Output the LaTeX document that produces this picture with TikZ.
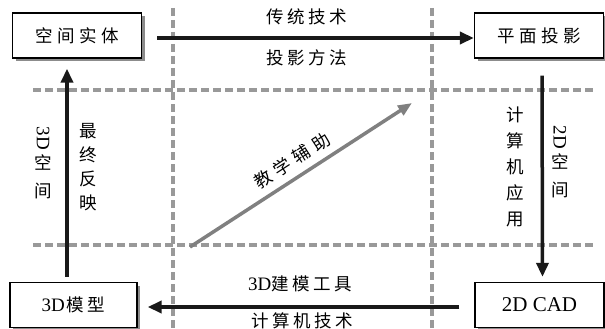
\documentclass[tikz,border=0pt]{standalone}
\usepackage{fontspec}
\usepackage{graphicx}
\setmainfont{Liberation Serif}
\newfontfamily\cjk{Noto Sans CJK SC}
\usetikzlibrary{arrows.meta,shadows}
\newcommand\gp{\hspace{3.5pt}}
\newcommand\bgp{\hspace{4.5pt}}
\newcommand\dgp{\hspace{5.5pt}}
\newcommand\lat[1]{{\rmfamily\fontsize{19}{19}\selectfont #1}}
\begin{document}
\begin{tikzpicture}[x=1pt,y=-1pt,
  box/.style={draw=black,line width=1.3pt,fill=white,minimum width=129pt,minimum height=45pt,inner sep=0pt,
    drop shadow={shadow xshift=3pt,shadow yshift=-3pt,fill=black!45,opacity=1},
    font=\fontsize{17.5}{20}\selectfont\cjk},
  arr/.style={line width=3.5pt,draw=black!90,-{Triangle[length=14pt,width=12pt]}},
  garr/.style={line width=3.5pt,draw=black!50,-{Triangle[length=14pt,width=11pt]}},
  gdash/.style={draw=black!40,line width=3.3pt,dash pattern=on 8pt off 4pt},
  lbl/.style={font=\fontsize{17.5}{20}\selectfont\cjk,inner sep=0pt},
  vlbl/.style={font=\fontsize{17.5}{24}\selectfont\cjk,align=center,inner sep=0pt}
]
\useasboundingbox (0,0) rectangle (605,329);
% dashed grid
\draw[gdash] (33,90) -- (595,90);
\draw[gdash] (33,245) -- (595,245);
\draw[gdash] (173,8) -- (173,329);
\draw[gdash] (432,8) -- (432,329);
% boxes
\node[box] (kj) at (77,35.5) {空\bgp 间\bgp 实\bgp 体};
\node[box] (pm) at (539,35.5) {平\bgp 面\bgp 投\bgp 影};
\node[box,minimum width=127pt] (mx) at (73.5,305) {\lat{3D}\hspace{2pt}模\gp 型};
\node[box] (cad) at (539.5,305) {{\rmfamily\fontsize{21}{21}\selectfont 2D CAD}};
% arrows
\draw[arr,shorten <=15pt] ([yshift=-2.5pt]kj.east) -- ([yshift=-2.5pt]pm.west);
\draw[arr,shorten <=17pt,shorten >=5pt] ([xshift=3pt]pm.south) -- ([xshift=3pt]cad.north);
\draw[arr,shorten <=15pt,shorten >=10pt] ([yshift=-2pt]cad.west) -- ([yshift=-2pt]mx.east);
\draw[arr,shorten <=5pt,shorten >=10pt] ([xshift=-6.5pt]mx.north) -- ([xshift=-6.5pt]mx.north |- kj.south);
% diagonal
\coordinate (d1) at (190,247);
\coordinate (d2) at (412,103);
\draw[garr] (d1) -- node[lbl,sloped,above=7pt,pos=0.5] {教\dgp 学\dgp 辅\dgp 助} (d2);
% labels
\node[lbl] (t1) at (307,17) {传\gp 统\gp 技\gp 术};
\node[lbl] (t2) at (307,58) {投\gp 影\gp 方\gp 法};
\node[lbl] (b1) at (300,284) {\lat{3D}建\gp 模\gp 工\gp 具};
\node[lbl] (b2) at (302,321) {计\gp 算\gp 机\gp 技\gp 术};
\node[vlbl] (l1) at (43,163) {\rotatebox{-90}{\lat{3D}}\\[4pt]空\\[4pt]间};
\node[vlbl] (l2) at (88,167) {最\\终\\反\\映};
\node[vlbl,font=\fontsize{17.5}{26}\selectfont\cjk] (r1) at (515,167) {计\\算\\机\\应\\用};
\node[vlbl] (r2) at (560,162) {\rotatebox{-90}{\lat{2D}}\\[4pt]空\\[4pt]间};
\end{tikzpicture}
\end{document}
